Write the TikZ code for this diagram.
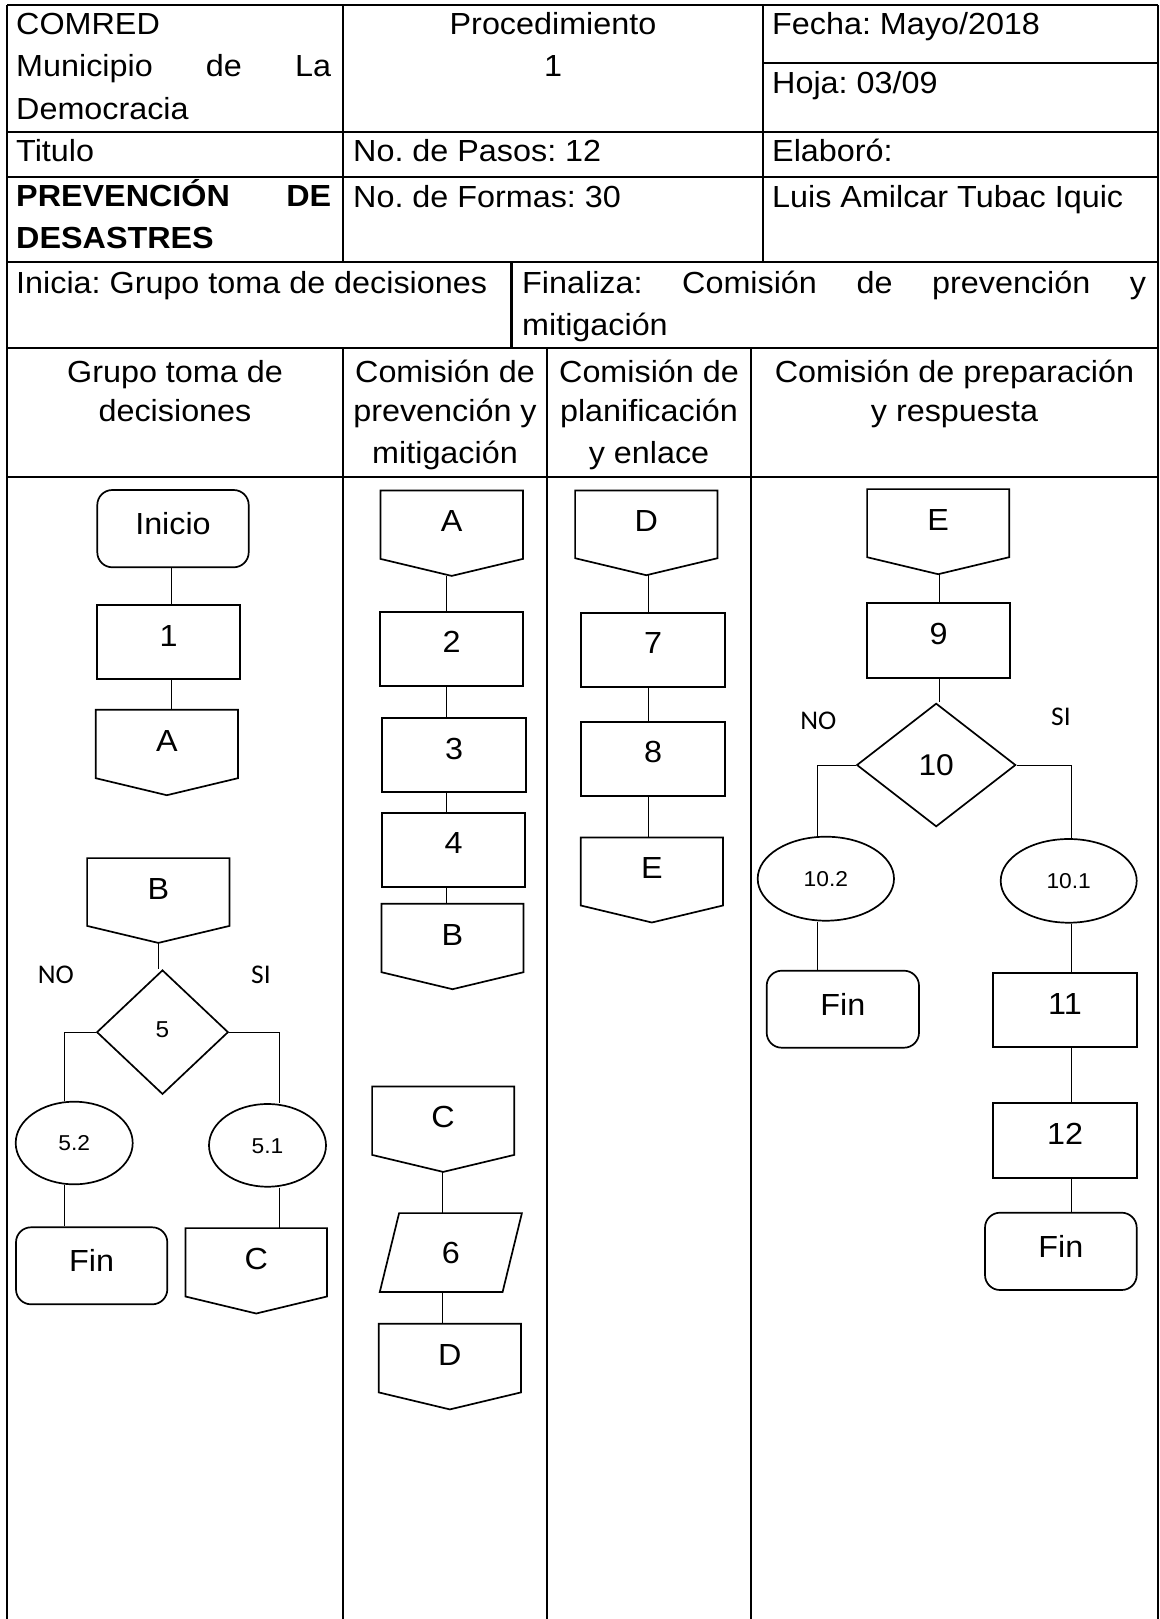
\documentclass[tikz,border=0pt]{standalone}
\usepackage{fontspec}
\setmainfont[FakeStretch=1.06]{Liberation Sans}
\newfontfamily\calib[FakeStretch=1.02]{Carlito}
\usetikzlibrary{shapes.geometric,calc}
\frenchspacing
\newcommand\nd[7]{\node[#1,minimum width={#4-#3},minimum height={#6-#5}] (#2) at ({(#3+#4)/2},{(#5+#6)/2}) {#7};}
\newcommand\offp[6]{\node[offbox,minimum width={#3-#2},minimum height={#5-#4}] (#1) at ({(#2+#3)/2},{(#4+#5)/2}) {#6};
  \draw[shp] (#1.north west) -- (#1.north east) -- ([yshift=17pt]#1.south east) -- (#1.south) -- ([yshift=17pt]#1.south west) -- cycle;}
\begin{document}
\begin{tikzpicture}[x=1pt,y=-1pt,
  tbl/.style={line width=2.1pt},
  shp/.style={line width=1.7pt},
  conn/.style={line width=1pt},
  ht/.style={inner sep=0pt, font=\frenchspacing\fontsize{30.5}{42}\selectfont},
  hb/.style={ht, anchor=base west},
  hc/.style={ht, anchor=base},
  txtbase/.style={inner sep=0pt, font=\fontsize{30.5}{37}\selectfont, text height=22pt},
  rectbox/.style={txtbase, shp, draw, rectangle, text depth=14pt},
  roundbox/.style={txtbase, shp, draw, rectangle, rounded corners=15pt, text depth=10pt},
  offbox/.style={txtbase, rectangle, text depth=25pt},
  parbox/.style={txtbase, rectangle, text depth=0pt},
  ellbox/.style={inner sep=0pt, shp, draw, ellipse, font=\fontsize{21.5}{26}\selectfont, text height=15.5pt, text depth=0pt},
  diabox/.style={inner sep=0pt, shp, draw, diamond},
  lbl/.style={inner sep=0pt, font=\calib\fontsize{27}{32}\selectfont},
]
\useasboundingbox (0,0) rectangle (1159,1619);
% ---------------- table lines ----------------
\draw[tbl] (7,5) -- (1158,5);
\draw[tbl] (763,63.3) -- (1158,63.3);
\draw[tbl] (7,132.3) -- (1158,132.3);
\draw[tbl] (7,176.7) -- (1158,176.7);
\draw[tbl] (7,261.7) -- (1158,261.7);
\draw[tbl] (7,348.3) -- (1158,348.3);
\draw[tbl] (7,477) -- (1158,477);
\draw[tbl] (7,5) -- (7,1619);
\draw[tbl] (1158,5) -- (1158,1619);
\draw[tbl] (343,5) -- (343,261.7);
\draw[tbl] (763,5) -- (763,261.7);
\draw[tbl] (511.5,261.7) -- (511.5,348.3);
\draw[tbl] (343,348.3) -- (343,1619);
\draw[tbl] (547,348.3) -- (547,1619);
\draw[tbl] (751,348.3) -- (751,1619);
% ---------------- header texts ----------------
\node[hb] (h1) at (16,35) {COMRED};
\node[hb] (h2) at (16,77) {\hbox to 315pt{Municipio\hfill de\hfill La}};
\node[hb] (h3) at (16,119) {Democracia};
\node[hc] (h4) at (553,35) {Procedimiento};
\node[hc] (h5) at (553,77) {1};
\node[hb] (h6) at (772,35) {Fecha: Mayo/2018};
\node[hb] (h7) at (772,93) {Hoja: 03/09};
\node[hb] (h8) at (16,161) {Titulo};
\node[hb] (h9) at (353,161) {No. de Pasos: 12};
\node[hb] (h10) at (772,161) {Elaboró:};
\node[hb] (h11) at (16,206) {\hbox to 315pt{\bfseries PREVENCIÓN\hfill DE}};
\node[hb] (h12) at (16,248) {\bfseries DESASTRES};
\node[hb] (h13) at (353,207) {No. de Formas: 30};
\node[hb] (h14) at (772,207) {Luis Amilcar Tubac Iquic};
\node[hb] (h15) at (16,293) {Inicia: Grupo toma de decisiones};
\node[hb] (h16) at (522,293) {\hbox to 624pt{Finaliza:\hfill Comisión\hfill de\hfill prevención\hfill y}};
\node[hb] (h17) at (522,335) {mitigación};
\node[hc] (c1a) at (175,382) {Grupo toma de};
\node[hc] (c1b) at (175,421) {decisiones};
\node[hc] (c2a) at (445,382) {Comisión de};
\node[hc] (c2b) at (445,421) {prevención y};
\node[hc] (c2c) at (445,463) {mitigación};
\node[hc] (c3a) at (649,382) {Comisión de};
\node[hc] (c3b) at (649,421) {planificación};
\node[hc] (c3c) at (649,463) {y enlace};
\node[hc] (c4a) at (954.5,382) {Comisión de preparación};
\node[hc] (c4b) at (954.5,421) {y respuesta};
% ---------------- column 1 ----------------
\nd{roundbox}{ini}{97.3}{248.7}{490}{567.3}{Inicio}
\nd{rectbox}{b1}{96.7}{240.3}{605}{679.3}{1}
\offp{A1}{96}{237.7}{710}{795}{A}
\offp{B1}{87.3}{229.3}{858.3}{942.7}{B}
\nd{diabox,font=\fontsize{23}{27}\selectfont,text height=16.5pt,text depth=6pt}{d5}{96.7}{228.3}{970}{1094.3}{5}
\nd{ellbox}{e52}{15.7}{132.7}{1101.7}{1184.3}{5.2}
\nd{ellbox}{e51}{209}{326}{1104}{1186.7}{5.1}
\nd{roundbox}{fin1}{16}{167.3}{1227.3}{1304.3}{Fin}
\offp{C1}{185.7}{326.7}{1228.3}{1313.3}{C}
\node[lbl] (no1) at (55.8,975.3) {NO};
\node[lbl] (si1) at (261,975) {SI};
% ---------------- column 2 ----------------
\offp{A2}{380.7}{522.7}{490.7}{575.7}{A}
\nd{rectbox}{b2}{380}{523.3}{611.7}{685.7}{2}
\nd{rectbox}{b3}{382.3}{525.7}{718.3}{792.3}{3}
\nd{rectbox}{b4}{382}{525}{812.7}{886.7}{4}
\offp{B2}{381.7}{523.3}{904}{989}{B}
\offp{C2}{372.3}{514}{1086.7}{1171.7}{C}
\nd{parbox}{p6}{380}{521.7}{1213.3}{1291.7}{6}
\draw[shp] ([xshift=19.3pt]p6.north west) -- (p6.north east) -- ([xshift=-19.3pt]p6.south east) -- (p6.south west) -- cycle;
\offp{D2}{379}{520.7}{1324}{1409.2}{D}
% ---------------- column 3 ----------------
\offp{D3}{575.3}{717.3}{490.7}{575}{D}
\nd{rectbox}{b7}{581}{725}{612.7}{686.7}{7}
\nd{rectbox}{b8}{581}{725}{721.7}{795.7}{8}
\offp{E3}{581}{722.7}{837.7}{922.3}{E}
% ---------------- column 4 ----------------
\offp{E4}{867.3}{1009}{489.3}{574}{E}
\nd{rectbox}{b9}{866.7}{1010.3}{603.3}{677.7}{9}
\nd{diabox,font=\fontsize{30}{34}\selectfont,text height=21.5pt,text depth=0pt}{d10}{856.7}{1015.7}{703.3}{826.7}{10}
\nd{ellbox}{e102}{757.7}{894}{836.7}{920.7}{10.2}
\nd{ellbox}{e101}{1000.7}{1136.7}{839}{922.7}{10.1}
\nd{roundbox}{fin2}{766.7}{919}{970.7}{1047.7}{Fin}
\nd{rectbox}{b11}{993.3}{1136.7}{972.7}{1047.3}{11}
\nd{rectbox}{b12}{993.3}{1136.7}{1103.3}{1178.3}{12}
\nd{roundbox}{fin3}{985}{1136.7}{1212.7}{1290}{Fin}
\node[lbl] (no2) at (818.3,720.8) {NO};
\node[lbl] (si2) at (1061,717.2) {SI};
% ---------------- connectors ----------------
\coordinate (k1) at (171,0);
\coordinate (k2) at (158.3,0);
\coordinate (k3) at (64,0);
\coordinate (k4) at (279,0);
\coordinate (k5) at (446.7,0);
\coordinate (k6) at (442.3,0);
\coordinate (k7) at (648,0);
\coordinate (k8) at (939,0);
\coordinate (k9) at (817.7,0);
\coordinate (k10) at (1071,0);
\draw[conn] (ini.south -| k1) -- (b1.north -| k1);
\draw[conn] (b1.south -| k1) -- (A1.north -| k1);
\draw[conn] (B1.south -| k2) -- (d5.north -| k2);
\draw[conn] (d5.west) -| (e52.north -| k3);
\draw[conn] (e52.south -| k3) -- (fin1.north -| k3);
\draw[conn] (d5.east) -| (e51.north -| k4);
\draw[conn] (e51.south -| k4) -- (C1.north -| k4);
\draw[conn] (A2.south -| k5) -- (b2.north -| k5);
\draw[conn] (b2.south -| k5) -- (b3.north -| k5);
\draw[conn] (b3.south -| k5) -- (b4.north -| k5);
\draw[conn] (b4.south -| k5) -- (B2.north -| k5);
\draw[conn] (C2.south -| k6) -- (p6.north -| k6);
\draw[conn] (p6.south -| k6) -- (D2.north -| k6);
\draw[conn] (D3.south -| k7) -- (b7.north -| k7);
\draw[conn] (b7.south -| k7) -- (b8.north -| k7);
\draw[conn] (b8.south -| k7) -- (E3.north -| k7);
\draw[conn] (E4.south -| k8) -- (b9.north -| k8);
\draw[conn] (b9.south -| k8) -- (d10.north -| k8);
\draw[conn] (d10.west) -| (e102.north -| k9);
\draw[conn] (e102.south -| k9) -- (fin2.north -| k9);
\draw[conn] (d10.east) -| (e101.north -| k10);
\draw[conn] (e101.south -| k10) -- (b11.north -| k10);
\draw[conn] (b11.south -| k10) -- (b12.north -| k10);
\draw[conn] (b12.south -| k10) -- (fin3.north -| k10);
\end{tikzpicture}
\end{document}
